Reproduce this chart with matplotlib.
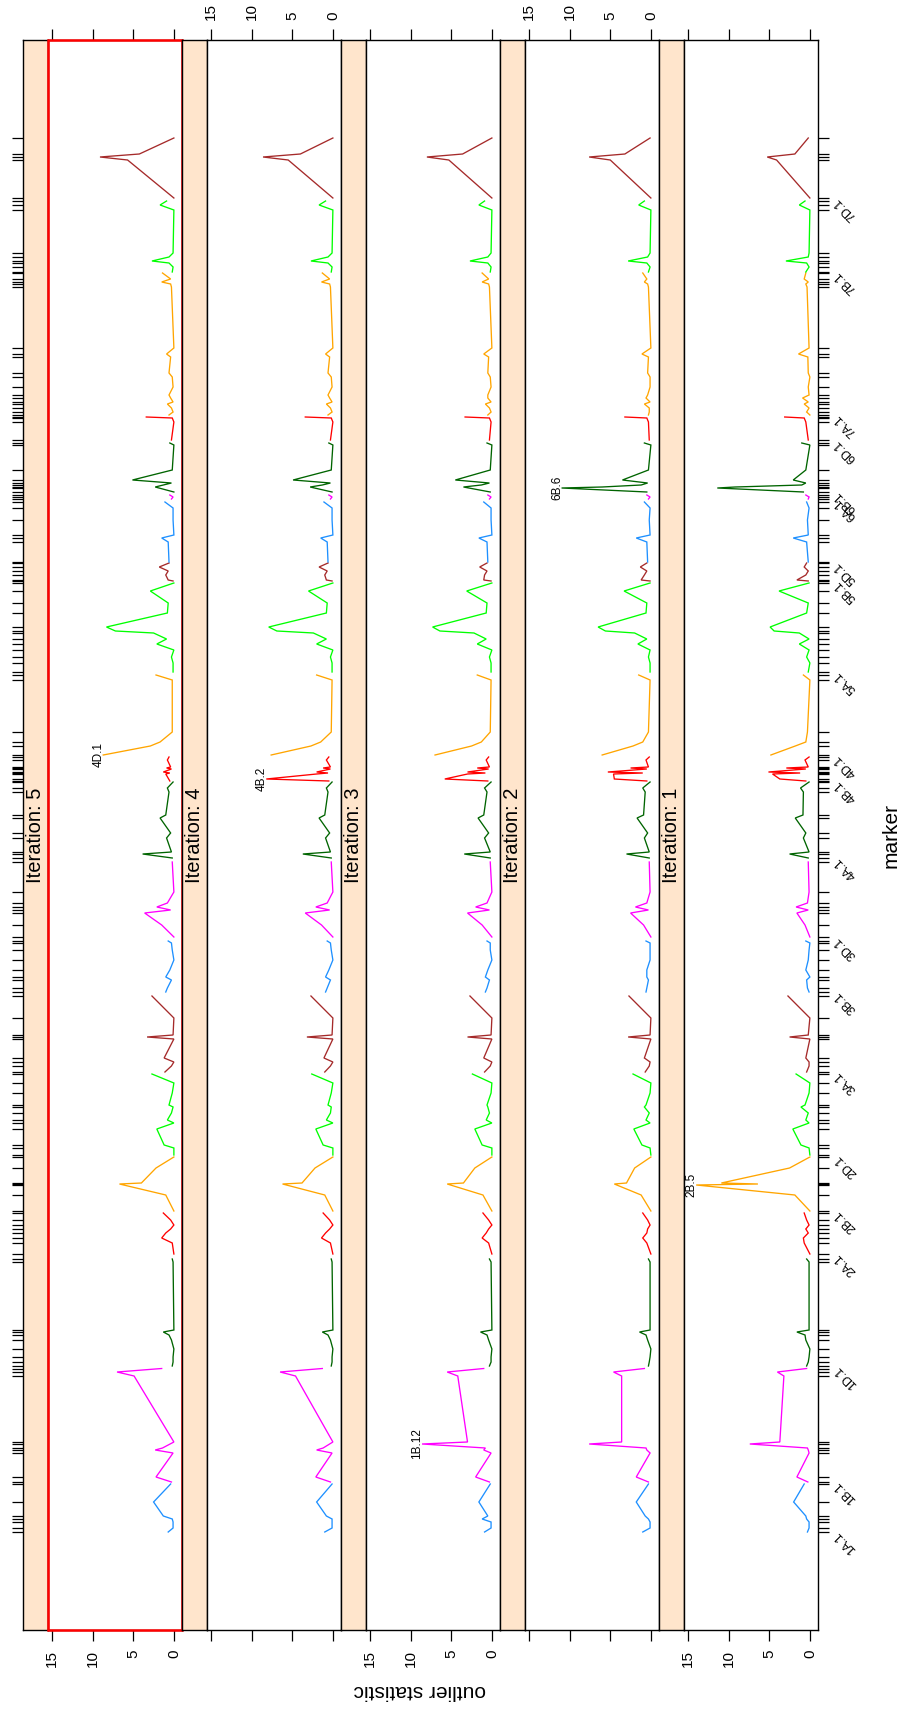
import numpy as np
import matplotlib
matplotlib.use("Agg")
import matplotlib.pyplot as plt
from matplotlib.patches import Rectangle

plt.rcParams['font.family'] = ['Liberation Sans', 'DejaVu Sans']

# ---------------- data ----------------
chromosomes = ["1A", "1B", "1D", "2A", "2B", "2D", "3A", "3B", "3D", "4A", "4B",
               "4D", "5A", "5B", "5D", "6A", "6B", "6D", "7A", "7B", "7D"]
chrom_colors = ["#1E90FF", "#FF00FF", "#006400", "#FF0000", "#FFA500", "#00FF00", "#A52A2A"]

# marker map positions (cumulative)
positions = {
    "1A": [0, 4, 10, 13, 16, 30, 48],
    "1B": [50, 55, 79, 82, 84, 88, 90, 156, 160, 163.5],
    "1D": [166, 170, 175, 183, 192, 197, 200, 202, 270, 273],
    "2A": [278, 289, 294, 299, 303, 307, 312, 319],
    "2B": [321, 337, 347, 348, 349, 364, 375],
    "2D": [377, 384, 387, 403, 409, 412, 419, 425, 427, 439, 449, 458],
    "3A": [460, 466, 470, 474, 493, 495, 497, 514, 536],
    "3B": [540, 544, 552, 555, 562, 572, 582, 589, 591],
    "3D": [595, 607, 619, 622, 625, 629, 640, 670],
    "4A": [674, 678, 680, 694, 699, 714, 717, 740, 744, 750],
    "4B": [751, 753, 758, 759, 760, 763, 764, 765, 772, 775],
    "4D": [777, 786, 790, 800, 852, 857],
    "5A": [860, 869, 875, 882, 888, 893, 899, 901, 905, 919, 929, 941, 949],
    "5B": [951, 952, 957, 961, 965, 969],
    "5D": [970, 990, 994, 997, 1012, 1024, 1030],
    "6A": [1033, 1035, 1037],
    "6B": [1040, 1044, 1045, 1047, 1049, 1052, 1062, 1087, 1089],
    "6D": [1092, 1110, 1114, 1115],
    "7A": [1117, 1120, 1124, 1128, 1130, 1134, 1137, 1145, 1155, 1159, 1175, 1178, 1184,
           1245, 1248, 1250, 1253, 1259],
    "7B": [1260, 1265, 1269, 1271, 1275, 1279, 1322, 1327, 1331],
    "7D": [1334, 1372, 1375, 1378, 1394],
}

nan = float("nan")

stat_iter1 = {
    "1A": [0.3, 0.1, 0.1, 0.4, 0.5, 2.0, 0.7],
    "1B": [0.25, 1.6, 0.1, 0.2, 0.3, 7.4, 3.7, 3.2, 4.0, 0.4],
    "1D": [0.4, 0.2, 0.1, 0.0, 0.5, 0.6, 1.6, 0.1, 0.1, 0.4],
    "2A": [0.0, 0.7, 0.8, 0.2, 0.5, 0.1, 0.4, 0.7],
    "2B": [0.0, 1.85, 14.0, 6.4, 10.9, 2.5, 0.0],
    "2D": [0.0, 0.1, 1.1, 2.1, 0.1, 0.5, 0.2, 1.1, 0.6, 0.1, 0.0, 1.7],
    "3A": [0.4, 0.1, 0.1, 0.5, 0.0, 2.5, 0.2, 0.0, 2.7],
    "3B": [0.1, 0.3, 0.4, 0.0, 0.5, 0.2, 0.1, 0.0, 0.5],
    "3D": [0.0, 0.6, 1.6, 0.2, 1.7, 0.3, 0.1, 0.2],
    "4A": [0.2, 2.5, 0.1, 0.8, 0.5, 1.8, 0.85, 0.8, 1.15, 0.1],
    "4B": [0.5, 3.7, 4.6, 1.2, 5.1, 0.5, 2.9, 0.2, 0.6, 0.1],
    "4D": [4.8, 1.8, 0.5, 0.3, 0.0, 0.8],
    "5A": [0.2, 0.0, 0.4, 0.1, 1.3, 0.1, 1.3, 4.4, 4.9, 0.4, 0.2, 3.8, 0.1],
    "5B": [0.2, 1.6, 0.5, 0.2, 0.7, 0.4],
    "5D": [0.2, 0.4, 2.05, 0.2, 0.3, 0.1, 0.4],
    "6A": [0.2, 0.1, 0.5],
    "6B": [0.8, 11.4, 9.2, 1.0, 0.5, 2.05, 0.5, 0.0, 1.0],
    "6D": [0.2, 0.5, 0.7, 3.1],
    "7A": [0.0, 0.4, 0.1, 0.7, 0.2, 0.9, 0.1, 0.2, 0.0, 0.2, 0.25, 1.4, 0.1, 0.35, 0.5, 0.2, 0.7, 0.5],
    "7B": [0.5, 0.1, 0.4, 2.95, 0.2, 0.1, 0.0, 1.3, 0.6],
    "7D": [0.0, 4.1, 5.25, 1.85, 0.2],
}

stat_iter2 = {
    "1A": [1.0, 0.1, 0.1, 0.3, 0.7, 1.8, 0.3],
    "1B": [0.3, 1.8, 0.1, 0.5, 0.6, 7.6, 3.6, 3.6, 4.6, 0.8],
    "1D": [0.3, 0.2, 0.1, 0.0, 0.4, 0.6, 1.4, 0.1, 0.1, 0.3],
    "2A": [0.0, 0.5, 1.0, 0.5, 0.4, 0.1, 0.4, 1.0],
    "2B": [0.0, 1.2, nan, 4.5, 3.0, 2.0, 0.0],
    "2D": [0.0, 0.1, 1.1, 2.1, 0.1, 0.6, 0.2, 0.8, 0.6, 0.1, 0.0, 2.2],
    "3A": [0.7, 0.2, 0.1, 0.8, 0.0, 2.8, 0.1, 0.0, 2.7],
    "3B": [0.6, 0.5, 0.3, 0.5, 0.5, 0.1, 0.1, 0.1, 0.6],
    "3D": [0.0, 0.9, 2.5, 0.3, 1.9, 0.5, 0.1, 0.2],
    "4A": [0.2, 3.0, 0.2, 0.8, 0.4, 1.7, 0.9, 0.7, 1.0, 0.1],
    "4B": [0.5, 4.5, 4.6, 1.0, 5.3, 0.5, 2.5, 0.3, 0.6, 0.2],
    "4D": [6.0, 2.2, 1.0, 0.3, 0.1, 1.5],
    "5A": [0.1, 0.1, 0.3, 0.1, 1.6, 0.5, 2.0, 5.6, 6.5, 0.6, 0.5, 3.3, 0.1],
    "5B": [0.1, 1.2, 0.8, 0.5, 1.3, 0.5],
    "5D": [0.4, 0.5, 1.8, 0.1, 0.2, 0.1, 0.8],
    "6A": [0.3, 0.1, 0.5],
    "6B": [0.5, 11.0, 6.0, 1.2, 0.4, 3.5, 0.3, 0.0, 0.8],
    "6D": [0.2, 0.3, 0.5, 3.2],
    "7A": [0.3, 0.2, 0.2, 0.8, 0.1, 0.6, 0.4, 0.1, 0.1, 0.4, 0.3, 1.1, 0.0, 0.3, 0.4, 0.8, 0.5, 1.0],
    "7B": [0.3, 0.1, 0.5, 2.8, 0.4, 0.1, 0.0, 1.5, 0.8],
    "7D": [0.0, 5.0, 7.6, 3.2, 0.1],
}

stat_iter3 = {
    "1A": [0.9, 0.1, 0.1, 1.2, 0.5, 1.6, 0.2],
    "1B": [0.3, 2.0, 0.1, 1.0, 0.8, 8.6, 3.0, 4.2, 5.5, 1.0],
    "1D": [0.3, 0.1, 0.1, 0.0, 0.4, 0.6, 1.4, 0.0, 0.1, 0.3],
    "2A": [0.0, 0.4, 1.2, 0.7, 0.4, 0.0, 0.4, 1.1],
    "2B": [0.0, 1.1, nan, 5.5, 3.5, 2.1, 0.0],
    "2D": [0.0, 0.0, 1.2, 2.1, 0.0, 0.7, 0.3, 0.5, 0.6, 0.1, 0.0, 2.4],
    "3A": [0.9, 0.2, 0.0, 1.0, 0.0, 3.0, 0.1, 0.0, 2.7],
    "3B": [0.8, 0.6, 0.3, 0.8, 0.5, 0.0, 0.2, 0.2, 0.6],
    "3D": [0.0, 1.2, 3.0, 0.3, 2.0, 0.6, 0.0, 0.2],
    "4A": [0.2, 3.4, 0.2, 0.9, 0.4, 1.7, 1.0, 0.6, 0.9, 0.1],
    "4B": [0.5, 5.8, 3.0, 0.8, 3.0, 0.4, 1.8, 0.3, 0.7, 0.4],
    "4D": [7.0, 2.5, 1.3, 0.2, 0.1, 1.8],
    "5A": [0.1, 0.1, 0.3, 0.0, 1.8, 0.7, 2.2, 6.4, 7.3, 0.7, 0.6, 3.1, 0.0],
    "5B": [0.1, 1.0, 0.9, 0.6, 1.5, 0.6],
    "5D": [0.5, 0.6, 1.6, 0.0, 0.1, 0.1, 1.0],
    "6A": [0.3, 0.1, 0.5],
    "6B": [0.2, nan, 3.5, 1.3, 0.3, 4.5, 0.2, 0.0, 0.6],
    "6D": [0.3, 0.1, 0.3, 3.3],
    "7A": [0.5, 0.1, 0.3, 0.8, 0.1, 0.5, 0.5, 0.1, 0.2, 0.5, 0.4, 1.0, 0.0, 0.3, 0.4, 1.2, 0.4, 1.2],
    "7B": [0.2, 0.1, 0.5, 2.7, 0.5, 0.1, 0.0, 1.6, 0.9],
    "7D": [0.0, 5.3, 8.0, 3.6, 0.0],
}

stat_iter4 = {
    "1A": [1.0, 0.1, 0.1, 0.1, 0.8, 2.0, 0.1],
    "1B": [0.3, 2.1, 0.1, 2.0, 1.2, nan, 0.0, 4.6, 6.5, 1.3],
    "1D": [0.2, 0.1, 0.1, 0.0, 0.3, 0.6, 1.3, 0.0, 0.1, 0.2],
    "2A": [0.0, 0.3, 1.4, 0.9, 0.4, 0.0, 0.4, 1.2],
    "2B": [0.0, 1.0, nan, 6.2, 3.8, 2.2, 0.0],
    "2D": [0.0, 0.0, 1.2, 2.1, 0.0, 0.8, 0.3, 0.2, 0.6, 0.2, 0.0, 2.6],
    "3A": [1.0, 0.3, 0.0, 1.1, 0.0, 3.2, 0.1, 0.0, 2.7],
    "3B": [0.9, 0.7, 0.3, 0.9, 0.5, 0.0, 0.2, 0.3, 0.7],
    "3D": [0.0, 1.4, 3.4, 0.4, 2.1, 0.7, 0.0, 0.2],
    "4A": [0.2, 3.7, 0.3, 0.9, 0.4, 1.7, 1.0, 0.6, 0.8, 0.1],
    "4B": [0.5, 8.2, 2.0, 0.6, 2.0, 0.3, 1.2, 0.3, 0.8, 0.5],
    "4D": [7.6, 2.7, 1.5, 0.2, 0.1, 2.0],
    "5A": [0.1, 0.1, 0.3, 0.0, 2.0, 0.8, 2.4, 6.9, 7.9, 0.8, 0.7, 3.0, 0.0],
    "5B": [0.1, 0.8, 1.0, 0.7, 1.7, 0.6],
    "5D": [0.6, 0.7, 1.5, 0.0, 0.1, 0.1, 1.1],
    "6A": [0.3, 0.1, 0.5],
    "6B": [0.1, nan, 2.8, 1.3, 0.3, 4.9, 0.2, 0.0, 0.5],
    "6D": [0.3, 0.0, 0.2, 3.4],
    "7A": [0.6, 0.1, 0.3, 0.8, 0.1, 0.4, 0.6, 0.1, 0.2, 0.6, 0.4, 0.9, 0.0, 0.3, 0.4, 1.4, 0.4, 1.3],
    "7B": [0.2, 0.1, 0.6, 2.7, 0.6, 0.1, 0.0, 1.7, 0.9],
    "7D": [0.0, 5.5, 8.6, 4.0, 0.0],
}

stat_iter5 = {
    "1A": [0.7, 0.1, 0.1, 0.2, 1.3, 2.5, 0.4],
    "1B": [0.3, 2.2, 0.1, 2.3, 1.4, nan, 0.0, 4.9, 7.0, 1.5],
    "1D": [0.2, 0.1, 0.1, 0.0, 0.3, 0.6, 1.3, 0.0, 0.1, 0.2],
    "2A": [0.0, 0.2, 1.5, 1.0, 0.4, 0.0, 0.4, 1.3],
    "2B": [0.0, 1.0, nan, 6.7, 4.0, 2.2, 0.0],
    "2D": [0.0, 0.0, 1.2, 2.1, 0.0, 0.8, 0.3, 0.1, 0.6, 0.2, 0.0, 2.7],
    "3A": [1.1, 0.3, 0.0, 1.2, 0.0, 3.3, 0.1, 0.0, 2.7],
    "3B": [1.0, 0.8, 0.3, 1.0, 0.5, 0.0, 0.2, 0.3, 0.7],
    "3D": [0.0, 1.5, 3.6, 0.4, 2.1, 0.8, 0.0, 0.2],
    "4A": [0.2, 3.85, 0.3, 0.9, 0.4, 1.7, 1.0, 0.6, 0.8, 0.1],
    "4B": [0.5, nan, 1.0, 0.5, 1.3, 0.3, 0.9, 0.4, 0.8, 0.6],
    "4D": [8.7, 2.9, 1.7, 0.2, 0.2, 2.2],
    "5A": [0.1, 0.1, 0.3, 0.0, 2.1, 0.9, 2.5, 7.2, 8.3, 0.8, 0.7, 2.9, 0.0],
    "5B": [0.1, 0.7, 1.0, 0.7, 1.8, 0.6],
    "5D": [0.6, 0.7, 1.5, 0.0, 0.1, 0.1, 1.1],
    "6A": [0.3, 0.1, 0.5],
    "6B": [0.0, nan, 2.3, 1.3, 0.3, 5.1, 0.2, 0.0, 0.5],
    "6D": [0.3, 0.0, 0.2, 3.4],
    "7A": [0.6, 0.1, 0.3, 0.8, 0.1, 0.4, 0.6, 0.1, 0.2, 0.6, 0.4, 0.9, 0.0, 0.3, 0.4, 1.5, 0.4, 1.4],
    "7B": [0.2, 0.1, 0.6, 2.7, 0.6, 0.1, 0.0, 1.7, 0.9],
    "7D": [0.0, 5.7, 9.1, 4.25, 0.0],
}

iterations = [1, 2, 3, 4, 5]
stats_by_iteration = {1: stat_iter1, 2: stat_iter2, 3: stat_iter3, 4: stat_iter4, 5: stat_iter5}

# outlier flagged in each iteration: (label, chromosome, marker index)
outlier_names = {1: "2B.5", 2: "6B.6", 3: "1B.12", 4: "4B.2", 5: "4D.1"}
outlier_chrom = {1: "2B", 2: "6B", 3: "1B", 4: "4B", 5: "4D"}
outlier_index = {1: 2, 2: 1, 3: 5, 4: 1, 5: 0}

stat_ticks = [0, 5, 10, 15]

# ---------------- layout ----------------
W, H = 899, 1717
fig = plt.figure(figsize=(W / 100, H / 100), dpi=100)

TOP, BOTTOM = 40.5, 1629.5
LEFT0 = 23
PANEL_W = 159
STRIP_W = 25
XLIM = (15.5, -1.0)
YLIM = (-97.5, 1491.5)

STRIP_COL = "#FFE5CC"
TICK_LEN = 7.6


def rect(x0, y0, x1, y1):
    return [x0 / W, 1 - y1 / H, (x1 - x0) / W, (y1 - y0) / H]


all_pos = np.concatenate([positions[c] for c in chromosomes])

for j, it in enumerate(sorted(iterations, reverse=True)):
    sx0 = LEFT0 + PANEL_W * j
    dx0 = sx0 + STRIP_W
    dx1 = sx0 + PANEL_W

    # strip
    sax = fig.add_axes(rect(sx0, TOP, dx0, BOTTOM))
    sax.set_facecolor(STRIP_COL)
    sax.set_xlim(0, 1)
    sax.set_ylim(*YLIM)
    sax.set_xticks([])
    sax.set_yticks([])
    for sp in sax.spines.values():
        sp.set_linewidth(1.0)
    sax.text(0.5, 0.5, f"Iteration: {it}", rotation=90, ha="center", va="center",
             fontsize=14.5, transform=sax.transAxes)
    if j == 0:
        sax.set_yticks(all_pos)
        sax.tick_params(axis="y", which="both", direction="out", length=TICK_LEN,
                        width=0.9, left=True, labelleft=False)

    # data panel
    ax = fig.add_axes(rect(dx0, TOP, dx1, BOTTOM))
    ax.set_xlim(*XLIM)
    ax.set_ylim(*YLIM)
    for sp in ax.spines.values():
        sp.set_linewidth(1.0)

    stats = stats_by_iteration[it]
    for ci, c in enumerate(chromosomes):
        p = np.asarray(positions[c], dtype=float)
        v = np.asarray(stats[c], dtype=float)
        ok = ~np.isnan(v)
        ax.plot(v[ok], p[ok], color=chrom_colors[ci % len(chrom_colors)], lw=0.95,
                solid_joinstyle="miter")

    # flagged outlier label
    oc = outlier_chrom[it]
    oi = outlier_index[it]
    ax.annotate(outlier_names[it], xy=(stats[oc][oi], positions[oc][oi]),
                xytext=(1, 0), textcoords="offset points", rotation=90,
                ha="right", va="center", fontsize=8.5)

    # statistic axis (top & bottom)
    ax.set_xticks(stat_ticks)
    ax.set_xticklabels([str(t) for t in stat_ticks], rotation=90)
    labels_bottom = (j % 2 == 0)
    ax.tick_params(axis="x", direction="out", length=TICK_LEN, width=0.9,
                   top=True, bottom=True, labelbottom=labels_bottom,
                   labeltop=not labels_bottom, labelsize=11,
                   pad=6.8)

    # marker axis
    if j == 4:
        ax.set_yticks(all_pos)
        ax.tick_params(axis="y", which="both", direction="out", length=TICK_LEN,
                       width=0.9, left=False, right=True, labelleft=False,
                       labelright=False)
        for c in chromosomes:
            ax.annotate(f"{c}.1", xy=(1, positions[c][0]),
                        xycoords=("axes fraction", "data"),
                        xytext=(13, -1), textcoords="offset points",
                        rotation=135, rotation_mode="anchor",
                        ha="right", va="center", fontsize=9)
    else:
        ax.set_yticks([])

    if j == 0:
        ax.add_patch(Rectangle((0, 0), 1, 1, transform=ax.transAxes, fill=False,
                               edgecolor="red", lw=1.8, clip_on=False, zorder=10))

fig.text(891 / W, 1 - 835 / H, "marker", rotation=90, ha="center", va="center",
         fontsize=15)
fig.text(420 / W, 1 - 1690 / H, "outlier statistic", rotation=180, ha="center",
         va="center", fontsize=15)

fig.savefig("out.png", dpi=100)
